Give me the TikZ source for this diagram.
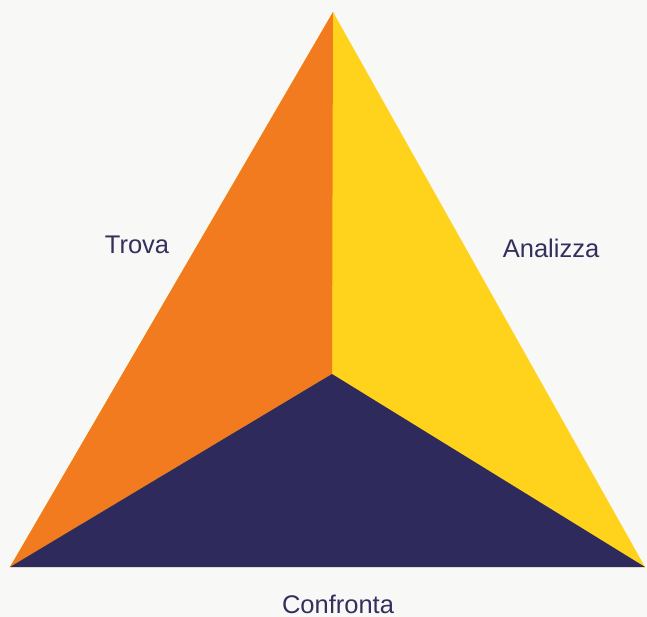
\documentclass[tikz,border=0pt]{standalone}
\usepackage{fontspec}
\setmainfont{Liberation Sans}
\definecolor{orng}{HTML}{F27A1F}
\definecolor{yllw}{HTML}{FFD31C}
\definecolor{navy}{HTML}{2F2A5C}
\definecolor{bg}{HTML}{F8F8F6}
\definecolor{txt}{HTML}{34305E}
\begin{document}
\begin{tikzpicture}[x=1pt,y=-1pt,
  lbl/.style={font=\fontsize{25.5}{30}\selectfont, text=txt, inner sep=0pt}]
\fill[bg] (0,0) rectangle (647,617);
\useasboundingbox (0,0) rectangle (647,617);
\coordinate (top) at (333,12);
\coordinate (bl) at (10,567);
\coordinate (br) at (645,567);
\coordinate (c) at (332,374);
\fill[yllw] (top) -- (br) -- (bl) -- cycle;
\fill[orng] (top) -- (c) -- (bl) -- cycle;
\fill[navy] (bl) -- (c) -- (br) -- cycle;
\node[lbl] (trova) at (137,245) {Trova};
\node[lbl] (analizza) at (551,248) {Analizza};
\node[lbl] (confronta) at (338,604) {Confronta};
\end{tikzpicture}
\end{document}
